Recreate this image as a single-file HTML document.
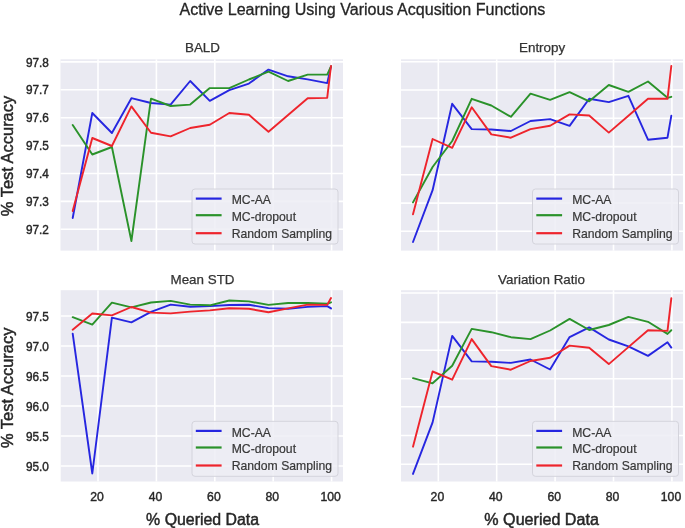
<!DOCTYPE html>
<html><head><meta charset="utf-8"><style>
html,body{margin:0;padding:0;background:#fff;}
svg{display:block;will-change:transform;}
text{font-family:"Liberation Sans",sans-serif;fill:#262626;}
.g{stroke:#fff;stroke-width:1.6;}
.d{fill:none;stroke-width:1.9;stroke-linejoin:round;stroke-linecap:round;}
.dl{stroke-width:2.2;}
.leg{fill:#ededf4;fill-opacity:0.85;stroke:#d4d4dc;stroke-width:1;}
.lt{font-size:12.2px;fill:#383838;stroke:#383838;stroke-width:0.2;}
.yt{font-size:12.2px;text-anchor:end;stroke:#262626;stroke-width:0.4;}
.xt{font-size:12.2px;text-anchor:middle;stroke:#262626;stroke-width:0.4;}
.sup{font-size:16px;text-anchor:middle;stroke:#262626;stroke-width:0.3;}
.st{font-size:13.4px;text-anchor:middle;fill:#333;stroke:#333;stroke-width:0.25;}
.xl{font-size:15.6px;text-anchor:middle;stroke:#262626;stroke-width:0.45;}
.yl{font-size:15.6px;text-anchor:middle;stroke:#262626;stroke-width:0.45;}
</style></head><body>
<svg width="685" height="528" viewBox="0 0 685 528">
<rect x="60.5" y="59.3" width="282.5" height="191.3" fill="#eaeaf2"/>
<line x1="60.5" x2="343" y1="61.9" y2="61.9" class="g"/>
<line x1="60.5" x2="343" y1="89.8" y2="89.8" class="g"/>
<line x1="60.5" x2="343" y1="117.7" y2="117.7" class="g"/>
<line x1="60.5" x2="343" y1="145.6" y2="145.6" class="g"/>
<line x1="60.5" x2="343" y1="173.5" y2="173.5" class="g"/>
<line x1="60.5" x2="343" y1="201.4" y2="201.4" class="g"/>
<line x1="60.5" x2="343" y1="229.3" y2="229.3" class="g"/>
<line x1="98.0" x2="98.0" y1="59.3" y2="250.6" class="g"/>
<line x1="156.4" x2="156.4" y1="59.3" y2="250.6" class="g"/>
<line x1="214.8" x2="214.8" y1="59.3" y2="250.6" class="g"/>
<line x1="273.2" x2="273.2" y1="59.3" y2="250.6" class="g"/>
<line x1="331.6" x2="331.6" y1="59.3" y2="250.6" class="g"/>
<rect x="401" y="59.3" width="282" height="191.3" fill="#eaeaf2"/>
<line x1="401" x2="683" y1="61.8" y2="61.8" class="g"/>
<line x1="401" x2="683" y1="90.0" y2="90.0" class="g"/>
<line x1="401" x2="683" y1="118.3" y2="118.3" class="g"/>
<line x1="401" x2="683" y1="146.6" y2="146.6" class="g"/>
<line x1="401" x2="683" y1="174.8" y2="174.8" class="g"/>
<line x1="401" x2="683" y1="203.1" y2="203.1" class="g"/>
<line x1="401" x2="683" y1="231.3" y2="231.3" class="g"/>
<line x1="438.3" x2="438.3" y1="59.3" y2="250.6" class="g"/>
<line x1="496.7" x2="496.7" y1="59.3" y2="250.6" class="g"/>
<line x1="555.1" x2="555.1" y1="59.3" y2="250.6" class="g"/>
<line x1="613.5" x2="613.5" y1="59.3" y2="250.6" class="g"/>
<line x1="671.9" x2="671.9" y1="59.3" y2="250.6" class="g"/>
<rect x="60.7" y="290.2" width="282.3" height="191.3" fill="#eaeaf2"/>
<line x1="60.7" x2="343" y1="316.0" y2="316.0" class="g"/>
<line x1="60.7" x2="343" y1="346.0" y2="346.0" class="g"/>
<line x1="60.7" x2="343" y1="376.0" y2="376.0" class="g"/>
<line x1="60.7" x2="343" y1="406.0" y2="406.0" class="g"/>
<line x1="60.7" x2="343" y1="436.0" y2="436.0" class="g"/>
<line x1="60.7" x2="343" y1="466.0" y2="466.0" class="g"/>
<line x1="98.0" x2="98.0" y1="290.2" y2="481.5" class="g"/>
<line x1="156.4" x2="156.4" y1="290.2" y2="481.5" class="g"/>
<line x1="214.8" x2="214.8" y1="290.2" y2="481.5" class="g"/>
<line x1="273.2" x2="273.2" y1="290.2" y2="481.5" class="g"/>
<line x1="331.6" x2="331.6" y1="290.2" y2="481.5" class="g"/>
<rect x="401" y="290.2" width="282" height="191.3" fill="#eaeaf2"/>
<line x1="401" x2="683" y1="293.0" y2="293.0" class="g"/>
<line x1="401" x2="683" y1="322.4" y2="322.4" class="g"/>
<line x1="401" x2="683" y1="350.2" y2="350.2" class="g"/>
<line x1="401" x2="683" y1="378.7" y2="378.7" class="g"/>
<line x1="401" x2="683" y1="406.8" y2="406.8" class="g"/>
<line x1="401" x2="683" y1="435.5" y2="435.5" class="g"/>
<line x1="401" x2="683" y1="464.2" y2="464.2" class="g"/>
<line x1="438.3" x2="438.3" y1="290.2" y2="481.5" class="g"/>
<line x1="496.7" x2="496.7" y1="290.2" y2="481.5" class="g"/>
<line x1="555.1" x2="555.1" y1="290.2" y2="481.5" class="g"/>
<line x1="613.5" x2="613.5" y1="290.2" y2="481.5" class="g"/>
<line x1="671.9" x2="671.9" y1="290.2" y2="481.5" class="g"/>
<polyline points="72.7,218.0 92.3,113.0 111.9,133.0 131.4,98.2 151.0,103.0 170.6,104.6 190.2,81.0 209.8,100.8 229.3,90.2 248.9,83.6 268.5,69.6 288.1,76.3 307.7,79.4 327.2,83.1 331.0,66.4" stroke="#2626e0" class="d"/>
<polyline points="72.7,125.0 92.3,154.5 111.9,147.0 131.4,241.0 151.0,98.6 170.6,106.0 190.2,104.6 209.8,88.1 229.3,88.1 248.9,79.5 268.5,71.7 288.1,81.0 307.7,74.6 327.2,74.6 331.0,66.4" stroke="#2a922a" class="d"/>
<polyline points="72.7,211.0 92.3,138.0 111.9,146.0 131.4,106.4 151.0,132.7 170.6,136.4 190.2,128.0 209.8,124.7 229.3,113.0 248.9,114.8 268.5,131.7 288.1,115.0 307.7,98.3 327.2,97.9 331.0,66.0" stroke="#ee242c" class="d"/>
<polyline points="413.0,242.0 432.6,190.2 452.2,103.8 471.7,129.1 491.3,129.5 510.9,131.0 530.5,121.0 550.1,119.1 569.6,125.9 589.2,98.8 608.8,102.1 628.4,95.8 648.0,139.7 667.5,137.7 671.3,115.8" stroke="#2626e0" class="d"/>
<polyline points="413.0,202.4 432.6,167.0 452.2,141.0 471.7,98.8 491.3,105.5 510.9,116.8 530.5,93.7 550.1,99.8 569.6,92.2 589.2,101.3 608.8,85.0 628.4,91.9 648.0,81.5 667.5,97.8 671.3,96.8" stroke="#2a922a" class="d"/>
<polyline points="413.0,214.3 432.6,139.0 452.2,147.8 471.7,107.3 491.3,134.4 510.9,137.7 530.5,129.1 550.1,125.7 569.6,114.4 589.2,115.5 608.8,132.6 628.4,115.8 648.0,98.8 667.5,98.8 671.3,66.0" stroke="#ee242c" class="d"/>
<polyline points="72.7,333.7 92.3,473.5 111.9,317.6 131.4,322.4 151.0,311.8 170.6,304.6 190.2,306.8 209.8,306.1 229.3,305.0 248.9,304.8 268.5,308.1 288.1,308.7 307.7,306.9 327.2,306.1 331.0,308.4" stroke="#2626e0" class="d"/>
<polyline points="72.7,317.2 92.3,324.6 111.9,302.6 131.4,307.4 151.0,302.5 170.6,300.9 190.2,304.6 209.8,305.3 229.3,300.5 248.9,301.4 268.5,304.9 288.1,303.0 307.7,303.0 327.2,303.8 331.0,302.3" stroke="#2a922a" class="d"/>
<polyline points="72.7,329.7 92.3,313.5 111.9,315.4 131.4,307.0 151.0,312.6 170.6,313.4 190.2,311.6 209.8,310.4 229.3,308.2 248.9,308.8 268.5,312.2 288.1,308.4 307.7,304.6 327.2,304.9 331.0,298.0" stroke="#ee242c" class="d"/>
<polyline points="413.0,473.9 432.6,422.4 452.2,335.9 471.7,361.4 491.3,361.7 510.9,362.9 530.5,359.5 550.1,369.5 569.6,337.1 589.2,327.4 608.8,339.5 628.4,346.4 648.0,355.9 667.5,342.3 671.3,347.6" stroke="#2626e0" class="d"/>
<polyline points="413.0,378.1 432.6,383.3 452.2,365.8 471.7,328.9 491.3,332.2 510.9,337.2 530.5,339.1 550.1,330.5 569.6,318.9 589.2,330.0 608.8,325.0 628.4,316.9 648.0,321.8 667.5,333.9 671.3,330.2" stroke="#2a922a" class="d"/>
<polyline points="413.0,446.7 432.6,371.5 452.2,379.7 471.7,339.1 491.3,366.1 510.9,369.7 530.5,361.0 550.1,357.7 569.6,345.6 589.2,347.7 608.8,364.1 628.4,347.1 648.0,330.2 667.5,330.9 671.3,298.3" stroke="#ee242c" class="d"/>
<rect x="192" y="189" width="146" height="55" rx="3" ry="3" class="leg"/>
<line x1="195.8" x2="221.6" y1="198.6" y2="198.6" stroke="#2626e0" class="dl"/>
<text x="231.7" y="204.2" class="lt">MC-AA</text>
<line x1="195.8" x2="221.6" y1="215.2" y2="215.2" stroke="#2a922a" class="dl"/>
<text x="231.7" y="220.9" class="lt">MC-dropout</text>
<line x1="195.8" x2="221.6" y1="233.2" y2="233.2" stroke="#ee242c" class="dl"/>
<text x="231.7" y="238.1" class="lt">Random Sampling</text>
<rect x="532.5" y="189" width="146" height="55" rx="3" ry="3" class="leg"/>
<line x1="536.3" x2="562.1" y1="198.6" y2="198.6" stroke="#2626e0" class="dl"/>
<text x="572.2" y="204.2" class="lt">MC-AA</text>
<line x1="536.3" x2="562.1" y1="215.2" y2="215.2" stroke="#2a922a" class="dl"/>
<text x="572.2" y="220.9" class="lt">MC-dropout</text>
<line x1="536.3" x2="562.1" y1="233.2" y2="233.2" stroke="#ee242c" class="dl"/>
<text x="572.2" y="238.1" class="lt">Random Sampling</text>
<rect x="192" y="421.3" width="146" height="55" rx="3" ry="3" class="leg"/>
<line x1="195.8" x2="221.6" y1="430.9" y2="430.9" stroke="#2626e0" class="dl"/>
<text x="231.7" y="436.5" class="lt">MC-AA</text>
<line x1="195.8" x2="221.6" y1="447.5" y2="447.5" stroke="#2a922a" class="dl"/>
<text x="231.7" y="453.2" class="lt">MC-dropout</text>
<line x1="195.8" x2="221.6" y1="465.5" y2="465.5" stroke="#ee242c" class="dl"/>
<text x="231.7" y="470.4" class="lt">Random Sampling</text>
<rect x="532.5" y="421.3" width="146" height="55" rx="3" ry="3" class="leg"/>
<line x1="536.3" x2="562.1" y1="430.9" y2="430.9" stroke="#2626e0" class="dl"/>
<text x="572.2" y="436.5" class="lt">MC-AA</text>
<line x1="536.3" x2="562.1" y1="447.5" y2="447.5" stroke="#2a922a" class="dl"/>
<text x="572.2" y="453.2" class="lt">MC-dropout</text>
<line x1="536.3" x2="562.1" y1="465.5" y2="465.5" stroke="#ee242c" class="dl"/>
<text x="572.2" y="470.4" class="lt">Random Sampling</text>
<text x="48.9" y="66.5" class="yt" textLength="23" lengthAdjust="spacingAndGlyphs">97.8</text>
<text x="48.9" y="94.4" class="yt" textLength="23" lengthAdjust="spacingAndGlyphs">97.7</text>
<text x="48.9" y="122.3" class="yt" textLength="23" lengthAdjust="spacingAndGlyphs">97.6</text>
<text x="48.9" y="150.2" class="yt" textLength="23" lengthAdjust="spacingAndGlyphs">97.5</text>
<text x="48.9" y="178.1" class="yt" textLength="23" lengthAdjust="spacingAndGlyphs">97.4</text>
<text x="48.9" y="206.0" class="yt" textLength="23" lengthAdjust="spacingAndGlyphs">97.3</text>
<text x="48.9" y="233.9" class="yt" textLength="23" lengthAdjust="spacingAndGlyphs">97.2</text>
<text x="48.9" y="320.6" class="yt" textLength="23" lengthAdjust="spacingAndGlyphs">97.5</text>
<text x="48.9" y="350.6" class="yt" textLength="23" lengthAdjust="spacingAndGlyphs">97.0</text>
<text x="48.9" y="380.6" class="yt" textLength="23" lengthAdjust="spacingAndGlyphs">96.5</text>
<text x="48.9" y="410.6" class="yt" textLength="23" lengthAdjust="spacingAndGlyphs">96.0</text>
<text x="48.9" y="440.6" class="yt" textLength="23" lengthAdjust="spacingAndGlyphs">95.5</text>
<text x="48.9" y="470.6" class="yt" textLength="23" lengthAdjust="spacingAndGlyphs">95.0</text>
<text x="97.1" y="500.6" class="xt">20</text>
<text x="155.5" y="500.6" class="xt">40</text>
<text x="213.9" y="500.6" class="xt">60</text>
<text x="272.3" y="500.6" class="xt">80</text>
<text x="330.7" y="500.6" class="xt">100</text>
<text x="437.4" y="500.6" class="xt">20</text>
<text x="495.8" y="500.6" class="xt">40</text>
<text x="554.2" y="500.6" class="xt">60</text>
<text x="612.6" y="500.6" class="xt">80</text>
<text x="671.0" y="500.6" class="xt">100</text>
<text x="362.4" y="14.6" class="sup" textLength="365.8" lengthAdjust="spacingAndGlyphs">Active Learning Using Various Acqusition Functions</text>
<text x="202.5" y="52.3" class="st">BALD</text>
<text x="542.1" y="52.3" class="st">Entropy</text>
<text x="202.5" y="283.7" class="st">Mean STD</text>
<text x="541.5" y="283.7" class="st">Variation Ratio</text>
<text x="202.6" y="524.8" class="xl" textLength="113" lengthAdjust="spacingAndGlyphs">% Queried Data</text>
<text x="541.6" y="524.8" class="xl" textLength="114.5" lengthAdjust="spacingAndGlyphs">% Queried Data</text>
<text transform="translate(13.3,156) rotate(-90)" class="yl" textLength="120.5" lengthAdjust="spacingAndGlyphs">% Test Accuracy</text>
<text transform="translate(13.3,387.8) rotate(-90)" class="yl" textLength="120.5" lengthAdjust="spacingAndGlyphs">% Test Accuracy</text>
</svg>
</body></html>
